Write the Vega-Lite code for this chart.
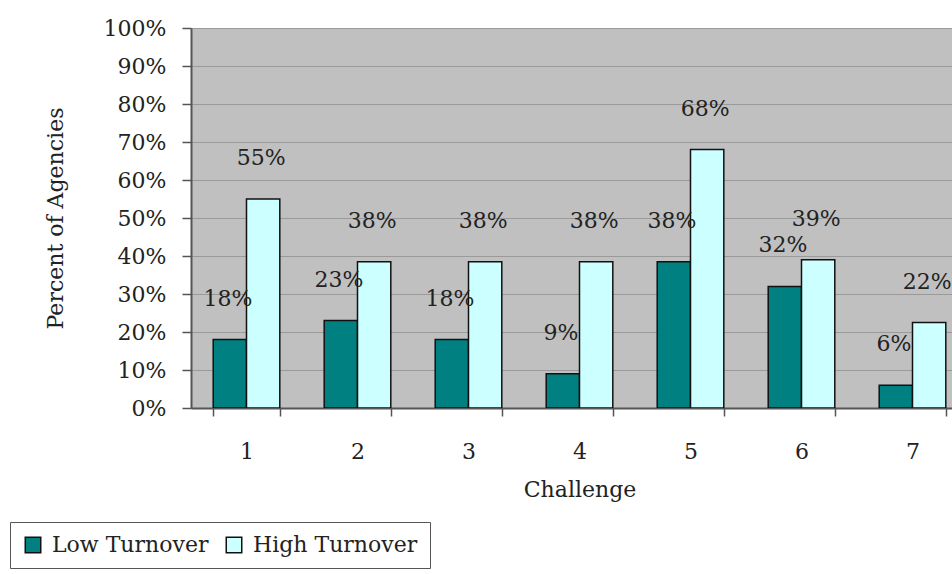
{
  "$schema": "https://vega.github.io/schema/vega-lite/v6.json",
  "autosize": {"type": "none"},
  "width": 761,
  "height": 380,
  "padding": {"left": 191, "top": 28, "right": 0, "bottom": 166},
  "background": "white",
  "config": {
    "view": {"fill": "#C0C0C0", "stroke": null},
    "font": "DejaVu Serif"
  },
  "data": {
    "values": [
      {"challenge": "1", "group": "Low Turnover", "value": 18, "label": "18%"},
      {"challenge": "1", "group": "High Turnover", "value": 55, "label": "55%"},
      {"challenge": "2", "group": "Low Turnover", "value": 23, "label": "23%"},
      {"challenge": "2", "group": "High Turnover", "value": 38.5, "label": "38%"},
      {"challenge": "3", "group": "Low Turnover", "value": 18, "label": "18%"},
      {"challenge": "3", "group": "High Turnover", "value": 38.5, "label": "38%"},
      {"challenge": "4", "group": "Low Turnover", "value": 9, "label": "9%"},
      {"challenge": "4", "group": "High Turnover", "value": 38.5, "label": "38%"},
      {"challenge": "5", "group": "Low Turnover", "value": 38.5, "label": "38%"},
      {"challenge": "5", "group": "High Turnover", "value": 68, "label": "68%"},
      {"challenge": "6", "group": "Low Turnover", "value": 32, "label": "32%"},
      {"challenge": "6", "group": "High Turnover", "value": 39, "label": "39%"},
      {"challenge": "7", "group": "Low Turnover", "value": 6, "label": "6%"},
      {"challenge": "7", "group": "High Turnover", "value": 22.5, "label": "22%"}
    ]
  },
  "encoding": {
    "x": {
      "field": "challenge",
      "type": "nominal",
      "scale": {"range": [0, 777], "paddingInner": 0.4, "paddingOuter": 0.2},
      "axis": {
        "title": "Challenge",
        "labelAngle": 0,
        "tickBand": "extent",
        "domainColor": "#555",
        "domainWidth": 2,
        "tickColor": "#555",
        "tickWidth": 1.5,
        "tickSize": 8,
        "labelPadding": 25,
        "labelFontSize": 22,
        "labelColor": "#222",
        "labelFont": "DejaVu Serif",
        "titleFont": "DejaVu Serif",
        "titleFontSize": 22,
        "titleFontWeight": "normal",
        "titleColor": "#222",
        "titlePadding": 17,
        "grid": false
      }
    },
    "xOffset": {"field": "group", "type": "nominal", "sort": ["Low Turnover", "High Turnover"], "scale": {"paddingInner": 0, "paddingOuter": 0}},
    "y": {
      "field": "value",
      "type": "quantitative",
      "scale": {"domain": [0, 100], "nice": false},
      "axis": {
        "title": "Percent of Agencies",
        "values": [0, 10, 20, 30, 40, 50, 60, 70, 80, 90, 100],
        "labelExpr": "datum.value + '%'",
        "grid": true,
        "gridColor": "#9A9A9A",
        "gridWidth": 1.2,
        "domainColor": "#555",
        "domainWidth": 2,
        "tickColor": "#555",
        "tickWidth": 1.5,
        "tickSize": 9,
        "labelPadding": 16,
        "labelFontSize": 22,
        "labelColor": "#222",
        "labelFont": "DejaVu Serif",
        "titleFont": "DejaVu Serif",
        "titleFontSize": 22,
        "titleFontWeight": "normal",
        "titleColor": "#222",
        "titlePadding": 36
      }
    }
  },
  "layer": [
    {
      "mark": {"type": "bar", "stroke": "#111", "strokeWidth": 1.5, "clip": true},
      "encoding": {
        "color": {
          "field": "group",
          "type": "nominal",
          "sort": ["Low Turnover", "High Turnover"],
          "scale": {"domain": ["Low Turnover", "High Turnover"], "range": ["#008080", "#CCFFFF"]},
          "legend": {
            "title": null,
            "orient": "none",
            "legendX": -181,
            "legendY": 494,
            "direction": "horizontal",
            "symbolType": "square",
            "symbolSize": 240,
            "symbolStrokeColor": "#111",
            "symbolStrokeWidth": 1.5,
            "symbolOpacity": 1,
            "labelFont": "DejaVu Serif",
            "labelFontSize": 22,
            "labelColor": "#222",
            "labelLimit": 400,
            "labelOffset": 8,
            "columnPadding": 14,
            "padding": 12,
            "strokeColor": "#555",
            "fillColor": "white"
          }
        }
      }
    },
    {
      "mark": {"type": "text", "baseline": "middle", "align": "center", "dy": -41, "dx": -2, "fontSize": 22, "color": "#222", "font": "DejaVu Serif", "clip": true},
      "encoding": {"text": {"field": "label"}}
    }
  ]
}
